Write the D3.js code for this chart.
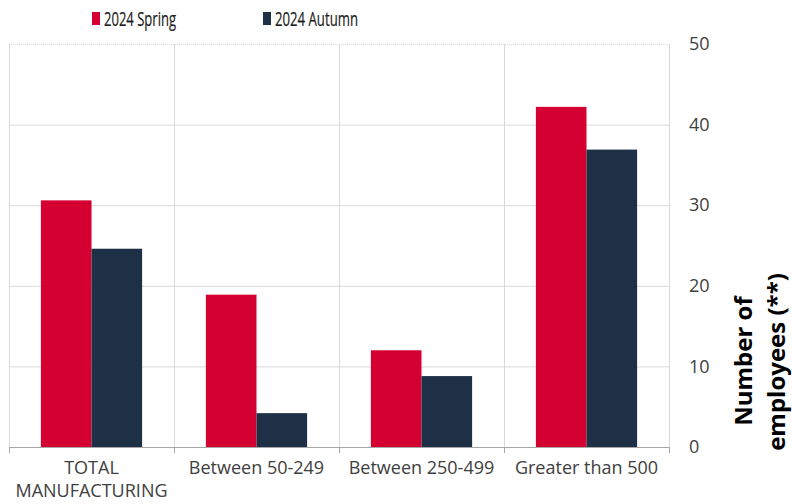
<!DOCTYPE html>
<html>
<head>
<meta charset="utf-8">
<script src="https://cdn.jsdelivr.net/npm/d3@7"></script>
<style>
  body { margin: 0; background: #fff; }
  svg { display: block; }
</style>
</head>
<body>
<svg id="chart" width="792" height="504"></svg>
<script>
const categories = [["TOTAL", "MANUFACTURING"], ["Between 50-249"], ["Between 250-499"], ["Greater than 500"]];
const seriesNames = ["2024 Spring", "2024 Autumn"];
const spring = [30.6, 18.9, 12.0, 42.2];
const autumn = [24.6, 4.2, 8.8, 36.9];
const yTicks = [0, 10, 20, 30, 40, 50];
const colors = ["#d50032", "#1e3045"];

(function () {
const svg = d3.select("#chart");
const pL = 9, pR = 669, pT = 44, pB = 447;

const x = d3.scaleBand().domain(d3.range(categories.length)).range([pL, pR]).padding(0);
const x1 = d3.scaleBand().domain([0, 1]).range([0, x.bandwidth()]).paddingOuter(0.63).paddingInner(0);
const y = d3.scaleLinear().domain([0, 50]).range([pB, pT]);

// gridlines
const grid = svg.append("g");
grid.selectAll("line.h").data(yTicks.filter(d => d > 0)).join("line")
  .attr("x1", pL).attr("x2", pR)
  .attr("y1", d => y(d) + 0.5).attr("y2", d => y(d) + 0.5)
  .attr("stroke", "#d9d9d9").attr("stroke-width", 1)
  .attr("stroke-dasharray", d => d === 50 ? "1,1" : null);
// vertical separators
const seps = d3.range(categories.length + 1).map(i => i < categories.length ? x(i) : pR);
grid.selectAll("line.v").data(seps).join("line")
  .attr("x1", d => d + 0.5).attr("x2", d => d + 0.5)
  .attr("y1", pT).attr("y2", pB)
  .attr("stroke", "#d9d9d9").attr("stroke-width", 1);

// bars
const data = [spring, autumn];
data.forEach((vals, si) => {
  svg.append("g").selectAll("rect").data(vals).join("rect")
    .attr("x", (d, i) => x(i) + x1(si))
    .attr("width", x1.bandwidth())
    .attr("y", d => y(d))
    .attr("height", d => y(0) - y(d))
    .attr("fill", colors[si]);
});

// x axis baseline with tick marks at boundaries
const ax = svg.append("g");
ax.append("line").attr("x1", pL).attr("x2", pR + 1).attr("y1", pB + 0.5).attr("y2", pB + 0.5)
  .attr("stroke", "#a6a6a6").attr("stroke-width", 1);
ax.selectAll("line.t").data(seps).join("line")
  .attr("x1", d => d + 0.5).attr("x2", d => d + 0.5)
  .attr("y1", pB).attr("y2", pB + 6)
  .attr("stroke", "#a6a6a6").attr("stroke-width", 1);

// category labels
const lab = svg.append("g").attr("font-family", "'Open Sans', sans-serif").attr("font-size", 18).attr("fill", "#404040").attr("text-anchor", "middle");
categories.forEach((lines, i) => {
  lines.forEach((t, j) => {
    lab.append("text").attr("x", x(i) + x.bandwidth() / 2).attr("y", 474 + j * 23).text(t);
  });
});

// y axis on the right
const yAxis = d3.axisRight(y).tickValues(yTicks).tickSize(0).tickPadding(20);
const yg = svg.append("g").attr("transform", `translate(${pR},0)`).call(yAxis);
yg.select(".domain").remove();
yg.selectAll("text").attr("font-family", "'Open Sans', sans-serif").attr("font-size", 18).attr("fill", "#404040");

// axis title
const title = svg.append("g").attr("font-family", "'Open Sans', sans-serif").attr("font-size", 24).attr("font-weight", "bold").attr("fill", "#000").attr("text-anchor", "middle");
title.append("text").attr("transform", "translate(752,361) rotate(-90)").text("Number of");
title.append("text").attr("transform", "translate(785,362) rotate(-90)").text("employees (**)");

// legend
const legX = [92, 263];
const legW = [72, 83];
const leg = svg.append("g");
seriesNames.forEach((n, i) => {
  leg.append("rect").attr("x", legX[i]).attr("y", 12).attr("width", 8).attr("height", 13).attr("fill", colors[i]);
  leg.append("text").attr("x", legX[i] + 12).attr("y", 26)
    .attr("font-family", "'Open Sans', sans-serif")
    .attr("font-size", 20).attr("fill", "#1a1a1a")
    .attr("stroke", "#1a1a1a").attr("stroke-width", 0.2)
    .attr("textLength", legW[i]).attr("lengthAdjust", "spacingAndGlyphs").text(n);
});
})();
</script>
</body>
</html>
